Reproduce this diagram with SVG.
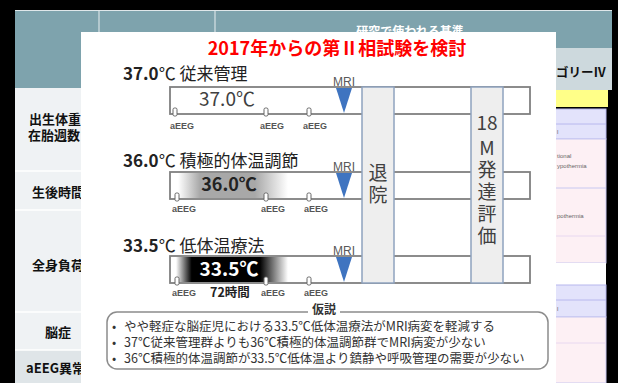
<svg xmlns="http://www.w3.org/2000/svg" width="618" height="383" viewBox="0 0 618 383">
<defs>
<style>
.jp{font-family:"Noto Sans CJK JP","Noto Sans",sans-serif}
.lbl{font-family:"Noto Sans CJK JP",sans-serif;font-size:13px;font-weight:bold;fill:#111}
.box{fill:none;stroke:#808080;stroke-width:1.8}
.col{fill:#eeeeee;stroke:#8fa3bf;stroke-width:1.5}
.mri{fill:#3f74c0}
.mrit{font-family:"Liberation Sans",sans-serif;font-size:12px;fill:#595959;text-anchor:middle}
.mk{fill:#fff;stroke:#666;stroke-width:1}
.ae{font-family:"Liberation Sans",sans-serif;font-size:9px;font-weight:bold;fill:#555}
.coltxt{font-family:"Noto Sans CJK JP",sans-serif;font-size:19px;fill:#404040;text-anchor:middle}
.hyp{font-family:"Noto Sans CJK JP",sans-serif;font-size:12.5px;fill:#333}
.tiny{font-family:"Liberation Sans",sans-serif;font-size:6px;fill:#666}
</style>
<linearGradient id="g36" x1="0" x2="1" y1="0" y2="0">
<stop offset="0" stop-color="#fff"/>
<stop offset="0.2" stop-color="#a8a8a8"/>
<stop offset="0.7" stop-color="#a8a8a8"/>
<stop offset="1" stop-color="#fff"/>
</linearGradient>
<linearGradient id="g33" x1="0" x2="1" y1="0" y2="0">
<stop offset="0" stop-color="#fff"/>
<stop offset="0.14" stop-color="#000"/>
<stop offset="0.75" stop-color="#000"/>
<stop offset="1" stop-color="#fff"/>
</linearGradient>
</defs>
<rect x="0" y="0" width="618" height="383" fill="#000"/>
<g id="bg-table">
<rect x="15" y="10" width="597" height="78" fill="#7ea3ad"/>
<line x1="99" y1="10" x2="99" y2="88" stroke="#e8eef0" stroke-width="1"/>
<line x1="215" y1="10" x2="215" y2="88" stroke="#e8eef0" stroke-width="1"/>
<line x1="15" y1="10.5" x2="612" y2="10.5" stroke="#dfe7ea" stroke-width="1"/>
<text x="410" y="36" text-anchor="middle" class="jp" font-size="12" font-weight="bold" fill="#fff">研究で使われる基準</text>
<rect x="15" y="88" width="85" height="295" fill="#eff2f4"/>
<rect x="15" y="350" width="85" height="33" fill="#dfe5e8"/>
<g stroke="#fff" stroke-width="1.5">
<line x1="15" y1="171" x2="100" y2="171"/>
<line x1="15" y1="210" x2="100" y2="210"/>
<line x1="15" y1="312" x2="100" y2="312"/>
<line x1="15" y1="350" x2="100" y2="350"/>
</g>
<text x="29" y="124" class="lbl">出生体重・</text>
<text x="28" y="140" class="lbl">在胎週数</text>
<text x="32" y="197" class="lbl">生後時間</text>
<text x="32" y="270" class="lbl">全身負荷</text>
<text x="45" y="337" class="lbl">脳症</text>
<text x="26" y="373" class="lbl">aEEG異常</text>
<rect x="555" y="48" width="57" height="42" fill="#cdd9dd"/>
<text x="556" y="77" class="jp" font-size="12.5" font-weight="bold" fill="#111">ゴリーⅣ</text>
<rect x="555" y="90" width="53" height="17" fill="#ffff88"/>
<rect x="608" y="100" width="10" height="283" fill="#000"/>
<rect x="555" y="109" width="51" height="30" fill="#e3e3fb" stroke="#b8b8ee" stroke-width="1"/>
<line x1="555" y1="124" x2="606" y2="124" stroke="#b8b8ee"/>
<rect x="555" y="139" width="51" height="124" fill="#fdf0f4" stroke="#c8c8f0" stroke-width="1"/>
<line x1="555" y1="188" x2="606" y2="188" stroke="#c8c8f0"/>
<line x1="555" y1="236" x2="606" y2="236" stroke="#e8d8f0"/>
<rect x="555" y="263" width="51" height="22" fill="#fff"/>
<rect x="555" y="285" width="51" height="32" fill="#e3e3fb" stroke="#b8b8ee" stroke-width="1"/>
<line x1="555" y1="300" x2="606" y2="300" stroke="#b8b8ee"/>
<rect x="555" y="317" width="51" height="66" fill="#fdf0f4" stroke="#c8c8f0" stroke-width="1"/>
<line x1="555" y1="343" x2="606" y2="343" stroke="#e8d8f0"/>
<text x="557" y="134" class="tiny">l</text>
<text x="557" y="158" class="tiny">tional</text>
<text x="557" y="168" class="tiny">ypothermia</text>
<text x="557" y="218" class="tiny">pothermia</text>
<text x="557" y="311" class="tiny">l</text>
</g>
<g id="panel">
<rect x="81" y="32" width="475" height="351" fill="#fff"/>
<text x="337" y="55" text-anchor="middle" class="jp" font-size="18" font-weight="bold" fill="#ff0000">2017年からの第Ⅱ相試験を検討</text>
</g>
<g id="row-37">
<text x="123" y="80" class="jp" font-size="17" fill="#222"><tspan font-weight="bold">37.0</tspan>℃ 従来管理</text>
<rect x="170" y="87" width="360" height="27" class="box"/>
<text x="227" y="106" text-anchor="middle" class="jp" font-size="19" fill="#404040">37.0℃</text>
</g>
<g id="row-36">
<text x="123" y="167" class="jp" font-size="17" fill="#222"><tspan font-weight="bold">36.0</tspan>℃ 積極的体温調節</text>
<rect x="178" y="173" width="110" height="25" fill="url(#g36)"/>
<rect x="170" y="172" width="360" height="27" class="box"/>
<text x="229" y="191" text-anchor="middle" class="jp" font-size="18" font-weight="bold" fill="#222">36.0℃</text>
</g>
<g id="row-33">
<text x="123" y="252" class="jp" font-size="17" fill="#222"><tspan font-weight="bold">33.5</tspan>℃ 低体温療法</text>
<rect x="176" y="257" width="112" height="25" fill="url(#g33)"/>
<rect x="170" y="256" width="360" height="27" class="box"/>
<text x="229" y="276" text-anchor="middle" class="jp" font-size="19" font-weight="bold" fill="#fff">33.5℃</text>
</g>
<g id="discharge">
<rect x="362" y="87" width="32" height="196" class="col"/>
<text x="378" y="180" class="coltxt">退</text>
<text x="378" y="202" class="coltxt">院</text>
</g>
<g id="eval18m">
<rect x="471" y="87" width="32" height="196" class="col"/>
<text x="487" y="130" class="coltxt" font-size="20">18</text>
<text x="487" y="155" class="coltxt" font-size="20">M</text>
<text x="487" y="177" class="coltxt">発</text>
<text x="487" y="199" class="coltxt">達</text>
<text x="487" y="221" class="coltxt">評</text>
<text x="487" y="243" class="coltxt">価</text>
</g>
<g id="connectors">
<text x="344" y="86" class="mrit">MRI</text>
<polygon points="336,88 352,88 344,113" class="mri"/>
<text x="344" y="171" class="mrit">MRI</text>
<polygon points="336,173 352,173 344,198" class="mri"/>
<text x="344" y="255" class="mrit">MRI</text>
<polygon points="336,257 352,257 344,282" class="mri"/>
<rect x="173" y="108" width="4" height="8" rx="1.5" class="mk"/>
<rect x="264" y="108" width="4" height="8" rx="1.5" class="mk"/>
<rect x="307" y="108" width="4" height="8" rx="1.5" class="mk"/>
<text x="170" y="129" class="ae">aEEG</text>
<text x="260" y="129" class="ae">aEEG</text>
<text x="303" y="129" class="ae">aEEG</text>
<rect x="175" y="193" width="4" height="8" rx="1.5" class="mk"/>
<rect x="264" y="193" width="4" height="8" rx="1.5" class="mk"/>
<rect x="307" y="193" width="4" height="8" rx="1.5" class="mk"/>
<text x="172" y="212" class="ae">aEEG</text>
<text x="261" y="212" class="ae">aEEG</text>
<text x="304" y="212" class="ae">aEEG</text>
<rect x="175" y="277" width="4" height="8" rx="1.5" class="mk"/>
<rect x="264" y="277" width="4" height="8" rx="1.5" class="mk"/>
<rect x="307" y="277" width="4" height="8" rx="1.5" class="mk"/>
<text x="172" y="296" class="ae">aEEG</text>
<text x="261" y="296" class="ae">aEEG</text>
<text x="304" y="296" class="ae">aEEG</text>
<text x="210" y="297" class="jp" font-size="12.5" font-weight="bold" fill="#222">72時間</text>
</g>
<g id="hypothesis">
<rect x="107" y="312" width="441" height="57" rx="10" fill="#fff" stroke="#8c8c8c" stroke-width="1.5"/>
<rect x="308" y="305" width="32" height="12" fill="#fff"/>
<text x="324" y="314" text-anchor="middle" class="jp" font-size="12" font-weight="bold" fill="#333">仮説</text>
<text x="112" y="331" class="hyp">•</text>
<text x="124" y="331" class="hyp">やや軽症な脳症児における33.5℃低体温療法がMRI病変を軽減する</text>
<text x="112" y="347" class="hyp">•</text>
<text x="124" y="347" class="hyp">37℃従来管理群よりも36℃積極的体温調節群でMRI病変が少ない</text>
<text x="112" y="363" class="hyp">•</text>
<text x="124" y="363" class="hyp">36℃積極的体温調節が33.5℃低体温より鎮静や呼吸管理の需要が少ない</text>
</g>
</svg>
